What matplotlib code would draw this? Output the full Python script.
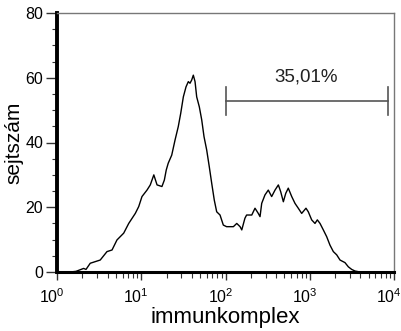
import matplotlib
matplotlib.use("Agg")
import matplotlib.pyplot as plt
import matplotlib.transforms as mtransforms
from matplotlib.ticker import LogLocator, MultipleLocator, NullFormatter

plt.rcParams['font.family'] = ['Liberation Sans', 'DejaVu Sans']
plt.rcParams['mathtext.fontset'] = 'custom'
plt.rcParams['mathtext.rm'] = 'Liberation Sans'
plt.rcParams['mathtext.it'] = 'Liberation Sans'
plt.rcParams['mathtext.bf'] = 'Liberation Sans'

# histogram trace (immunkomplex intensity, cell count)
intensity = [1.43, 1.68, 2.07, 2.21, 2.48, 3.26, 3.92, 4.50, 5.15, 6.19, 7.10, 8.50,
             9.33, 10.2, 11.7, 12.8, 14.1, 15.4, 17.6, 18.8, 19.8, 20.9, 23.0, 25.2,
             27.5, 29.4, 31.6, 34.0, 36.2, 37.9, 39.7, 41.5, 43.5, 45.5, 48.9, 52.2,
             55.6, 59.8, 64.2, 68.6, 73.6, 78.6, 86.1, 94.2, 103, 124, 136, 149, 156,
             170, 178, 205, 224, 245, 257, 269, 294, 322, 353, 387, 424, 452, 486,
             519, 556, 611, 668, 731, 802, 902, 961, 1054, 1154, 1230, 1324, 1449,
             1589, 1738, 1905, 2089, 2286, 2619, 2871, 3146, 3444, 3950]
counts = [0, 0.2, 1.1, 0.8, 2.7, 3.7, 6.3, 6.8, 9.9, 12.0, 15.0, 18.1,
          20.2, 23.3, 25.3, 26.9, 30.0, 26.9, 26.4, 28.4, 31.5, 33.6, 36.1, 40.8,
          44.9, 49.0, 54.1, 57.2, 58.8, 58.3, 59.3, 60.8, 58.8, 54.1, 51.0, 47.0,
          41.8, 37.7, 32.5, 27.4, 22.2, 18.6, 17.6, 14.5, 14.0, 14.0, 15.0, 14.0, 13.0,
          16.6, 17.6, 17.6, 19.7, 18.1, 17.1, 21.2, 23.8, 25.3, 23.3, 25.3, 26.9, 24.8, 21.7,
          24.3, 25.9, 23.3, 21.2, 19.7, 18.1, 19.7, 18.6, 16.1, 15.0, 16.1, 15.0, 13.0,
          10.9, 8.3, 6.3, 5.3, 3.7, 2.9, 1.6, 0.8, 0.3, 0]

# gate
gate_start = 100
gate_end = 8400
gate_level = 52.8
gate_label = "35,01%"

fig = plt.figure(figsize=(4.01, 3.31), dpi=100)
ax = fig.add_axes([57/401, 59/331, 337/401, 259/331])

ax.plot(intensity, counts, color='black', lw=1.0, clip_on=False, zorder=3)

ax.set_xscale('log')
ax.set_xlim(1, 1e4)
ax.set_ylim(0, 80)

# gate bar
gcol = '#555555'
ax.plot([gate_start, gate_end], [gate_level, gate_level], color=gcol, lw=1.2)
for gx in (gate_start, gate_end):
    ax.plot([gx, gx], [gate_level - 4.3, gate_level + 4.3], color=gcol, lw=1.2)
ax.text(10 ** ((2 + 3.925) / 2), 60.3, gate_label, ha='center', va='center',
        fontsize=13.5, color='#222222')

# spines
ax.spines['left'].set_linewidth(2.8)
ax.spines['bottom'].set_linewidth(2.2)
for s in ('top', 'right'):
    ax.spines[s].set_color('#777777')
    ax.spines[s].set_linewidth(1.0)

ax.yaxis.set_major_locator(MultipleLocator(20))
ax.yaxis.set_minor_locator(MultipleLocator(5))
ax.xaxis.set_major_locator(LogLocator(base=10, numticks=10))
ax.xaxis.set_minor_locator(LogLocator(base=10, subs=range(2, 10), numticks=20))
ax.xaxis.set_minor_formatter(NullFormatter())

ax.tick_params(axis='y', which='major', direction='out', length=8, width=1.0,
               pad=2, labelsize=11.5, color='#333333')
ax.tick_params(axis='y', which='minor', direction='out', length=3.5, width=0.8,
               color='#333333')
ax.tick_params(axis='x', which='major', direction='out', length=6, width=1.0,
               pad=5, labelsize=11.5, color='#333333')
ax.tick_params(axis='x', which='minor', direction='out', length=4, width=0.8,
               color='#333333')

ax.set_xlabel('immunkomplex', fontsize=16, labelpad=1)
ax.set_ylabel('sejtszám', fontsize=15, labelpad=1)

fig.canvas.draw()
offset = mtransforms.ScaledTranslation(-5 / 100, 0, fig.dpi_scale_trans)
for lab in ax.get_xticklabels():
    lab.set_transform(lab.get_transform() + offset)

fig.savefig('out.png', dpi=100)
